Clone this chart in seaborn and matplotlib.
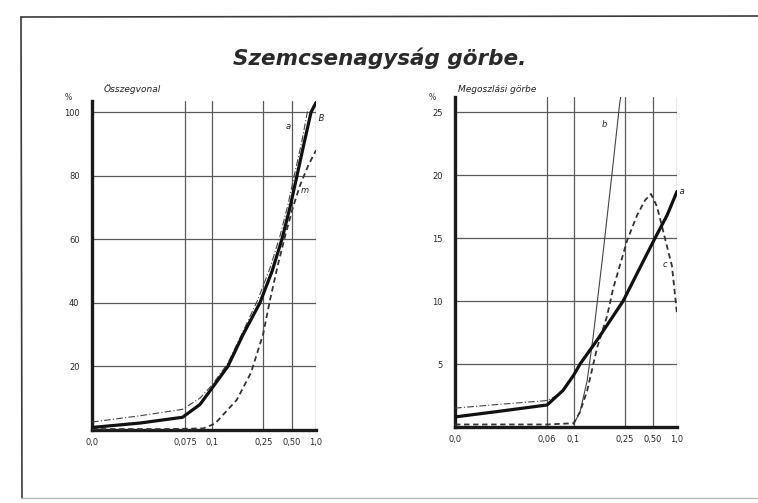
import numpy as np
import pandas as pd
import matplotlib
matplotlib.use("Agg")
import matplotlib.pyplot as plt
from matplotlib.lines import Line2D
import seaborn as sns

sns.set_theme(style="white")
plt.rcParams['font.family'] = ['DejaVu Sans']

# ---------------- data ----------------
TITLE = "Szemcsenagyság görbe."
LEFT_TITLE = "Összegvonal"
RIGHT_TITLE = "Megoszlási görbe"

# sieve sizes (mm) used as grid lines
left_sizes = [0.0, 0.075, 0.1, 0.25, 0.5, 1.0]
left_size_labels = ["0,0", "0,075", "0,1", "0,25", "0,50", "1,0"]
right_sizes = [0.0, 0.06, 0.1, 0.25, 0.5, 1.0]
right_size_labels = ["0,0", "0,06", "0,1", "0,25", "0,50", "1,0"]
# relative placement of the sieve grid on the printed (non-linear) axis
grid_fracs = [0.0, 0.415, 0.534, 0.765, 0.892, 1.0]

left_yticks = [20, 40, 60, 80, 100]
right_yticks = [5, 10, 15, 20, 25]

# Összegvonal (cumulative %)
L_B_x = [0.0, 0.039, 0.073, 0.089, 0.1, 0.147, 0.191, 0.240, 0.327, 0.413, 0.484, 0.607, 0.75, 0.898, 1.0]
L_B_y = [0.8, 2.2, 4.0, 8.0, 13.0, 20.0, 30.0, 40.0, 50.0, 60.0, 70.0, 80.0, 90.0, 100.0, 103.0]
L_a_x = [0.0, 0.039, 0.073, 0.089, 0.1, 0.147, 0.191, 0.234, 0.309, 0.396, 0.467, 0.565, 0.71, 0.833]
L_a_y = [2.5, 4.5, 6.5, 10.0, 14.0, 21.0, 31.0, 41.0, 51.0, 61.0, 71.0, 81.0, 91.0, 101.0]
L_c_x = [0.0, 0.06, 0.092, 0.11, 0.173, 0.214, 0.249, 0.309, 0.378, 0.441, 0.523, 0.671, 0.833, 1.0]
L_c_y = [0.3, 0.3, 0.5, 2.0, 9.5, 18.0, 30.0, 41.0, 52.0, 61.0, 70.0, 77.0, 83.0, 88.0]

# Megoszlási görbe (%)
R_a_x = [0.0, 0.029, 0.06, 0.084, 0.1, 0.119, 0.169, 0.245, 0.376, 0.542, 0.792, 1.0]
R_a_y = [0.8, 1.25, 1.75, 2.9, 4.1, 5.0, 6.9, 10.0, 12.5, 15.0, 16.8, 18.7]
R_t_x = [0.0, 0.029, 0.06, 0.075, 0.084]
R_t_y = [1.5, 1.8, 2.1, 2.5, 2.9]
R_c_x = [0.0, 0.06, 0.1, 0.119, 0.14, 0.169, 0.198, 0.216, 0.27, 0.358, 0.429, 0.482, 0.583, 0.708, 0.894, 1.0]
R_c_y = [0.2, 0.2, 0.3, 1.2, 2.9, 6.3, 8.8, 11.0, 14.8, 16.8, 18.0, 18.5, 17.5, 15.6, 12.8, 9.0]
R_b_x = [0.1, 0.119, 0.14, 0.157, 0.185, 0.212, 0.235, 0.245]
R_b_y = [0.2, 1.2, 3.7, 7.1, 13.5, 20.0, 25.7, 27.5]


def make_scale(sizes):
    fwd = lambda s: np.interp(s, sizes, grid_fracs)
    inv = lambda p: np.interp(p, grid_fracs, sizes)
    return fwd, inv


W, H = 758, 503
fig = plt.figure(figsize=(W / 100, H / 100), dpi=100)
fig.patch.set_facecolor("white")

def px_axes(x0, x1, ybot, ytop):
    return fig.add_axes([x0 / W, 1 - ybot / H, (x1 - x0) / W, (ybot - ytop) / H])

axL = px_axes(92, 316, 430, 101)
axR = px_axes(455, 677, 427, 97)

grid_kw = dict(color="#5a5a5a", lw=0.9, zorder=1)


def style_axes(ax, sizes, labels, yticks, ymax):
    fwd, inv = make_scale(sizes)
    ax.set_xscale("function", functions=(fwd, inv))
    ax.set_xlim(0, 1.0)
    ax.set_ylim(0, ymax)
    ax.set_xticks(sizes)
    ax.set_xticklabels(labels)
    ax.set_yticks(yticks)
    ax.set_yticklabels([str(t) for t in yticks])
    for s in sizes[1:]:
        ax.axvline(s, **grid_kw)
    for t in yticks:
        ax.axhline(t, **grid_kw)
    for side in ("top", "right"):
        ax.spines[side].set_visible(False)
    for side in ("left", "bottom"):
        ax.spines[side].set_linewidth(2.4)
        ax.spines[side].set_color("#1a1a1a")
    ax.tick_params(axis="both", length=0, labelsize=6, colors="#2a2a2a")
    ax.tick_params(axis="x", pad=6)
    ax.tick_params(axis="y", pad=9)
    ax.set_xlabel("")
    ax.set_ylabel("")
    ax.set_facecolor("white")


def curve(ax, xs, ys, **kw):
    df = pd.DataFrame({"x": xs, "y": ys})
    sns.lineplot(data=df, x="x", y="y", ax=ax, sort=False, estimator=None, zorder=3, **kw)


# left panel
curve(axL, L_a_x, L_a_y, color="#444444", lw=0.8, linestyle=(0, (6, 2, 1, 2)))
curve(axL, L_c_x, L_c_y, color="#333333", lw=1.3, linestyle=(0, (3, 2)))
curve(axL, L_B_x, L_B_y, color="#111111", lw=2.3)
style_axes(axL, left_sizes, left_size_labels, left_yticks, 103.5)

# right panel
curve(axR, R_t_x, R_t_y, color="#444444", lw=0.8, linestyle=(0, (6, 2, 1, 2)))
curve(axR, R_b_x, R_b_y, color="#444444", lw=0.8)
curve(axR, R_c_x, R_c_y, color="#333333", lw=1.3, linestyle=(0, (3, 2)))
curve(axR, R_a_x, R_a_y, color="#111111", lw=2.3)
style_axes(axR, right_sizes, right_size_labels, right_yticks, 26.2)

lab_kw = dict(fontsize=6, style="italic", color="#222222", clip_on=False)
axL.text(0.47, 95.5, "a", ha="center", va="center", **lab_kw)
axL.text(1.0, 98, " B", ha="left", va="center", **lab_kw)
axL.text(0.77, 75.5, "m", ha="center", va="center", **lab_kw)
axR.text(0.19, 24.0, "b", ha="center", va="center", **lab_kw)
axR.text(1.0, 18.7, " a", ha="left", va="center", **lab_kw)
axR.text(0.75, 12.9, "c", ha="center", va="center", **lab_kw)

# unit marks
fig.text(68 / W, 1 - 97 / H, "%", fontsize=5.5, color="#333333", ha="center", va="center")
fig.text(432 / W, 1 - 97 / H, "%", fontsize=5.5, color="#333333", ha="center", va="center")

# titles
fig.text(380 / W, 1 - 58 / H, TITLE, fontsize=15.5, style="italic", weight="bold",
         color="#2a2a2a", ha="center", va="center")
fig.text(104 / W, 1 - 89 / H, LEFT_TITLE, fontsize=6.5, style="italic", color="#222222",
         ha="left", va="center")
fig.text(458 / W, 1 - 89 / H, RIGHT_TITLE, fontsize=6.5, style="italic", color="#222222",
         ha="left", va="center")

# page frame
frame_kw = dict(color="#3a3a3a", lw=1.2, transform=fig.transFigure)
fig.add_artist(Line2D([21 / W, 1.0], [1 - 17 / H, 1 - 16 / H], **frame_kw))
fig.add_artist(Line2D([21 / W, 22 / W], [1 - 17 / H, 1 - 498 / H], **frame_kw))
fig.add_artist(Line2D([21 / W, 1.0], [1 - 498 / H, 1 - 498 / H], color="#bbbbbb", lw=1.0,
                      transform=fig.transFigure))

fig.savefig("out.png", dpi=100, facecolor="white")
